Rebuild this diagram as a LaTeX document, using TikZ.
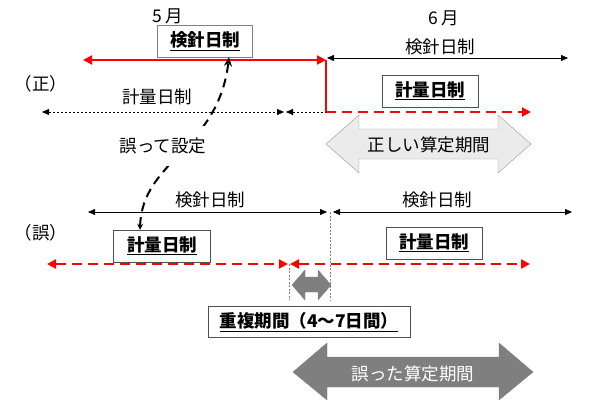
\documentclass[tikz,border=0pt]{standalone}
\usepackage{fontspec}
\setmainfont{Noto Sans CJK JP}
\usepackage{tikz}
\usetikzlibrary{arrows.meta, positioning, calc}
\definecolor{faultred}{RGB}{255, 0, 0}
\definecolor{boxgray}{RGB}{80, 80, 80}
\definecolor{lightfill}{RGB}{235, 235, 235}
\definecolor{darkfill}{RGB}{127, 127, 127}
\tikzstyle{tspan} = [
    thin,
    {Triangle[length=7pt, width=6pt]}-{Triangle[length=7pt, width=6pt]}
]
\tikzstyle{redtspan} = [
    line width=2pt,
    color=faultred,
    {Triangle[length=9pt, width=9pt]}-{Triangle[length=9pt, width=9pt]}
]
\tikzstyle{reddash} = [
    line width=2pt,
    color=faultred,
    dash pattern=on 10pt off 6pt
]
\tikzstyle{dotspan} = [
    thin,
    dash pattern=on 2.5pt off 1.5pt,
    {Triangle[length=7pt, width=6pt]}-{Triangle[length=7pt, width=6pt]}
]
\tikzstyle{guide} = [
    thin,
    gray,
    dash pattern=on 2pt off 1.5pt
]
\tikzstyle{labelbox} = [
    draw=boxgray,
    fill=white,
    minimum height=32pt,
    font=\fontsize{17.5}{20}\selectfont\bfseries
]

\begin{document}
\begin{tikzpicture}[x=1pt, y=-1pt, font=\fontsize{17.5}{20}\selectfont]
        \useasboundingbox (0,0) rectangle (595,412);

        % Time points (correct case)
        \coordinate (kL) at (83,60);
        \coordinate (kM) at (326,60);
        \coordinate (kMb) at (327,58);
        \coordinate (kR) at (568,58);
        \coordinate (mL) at (42,112);
        \coordinate (mM) at (284,112);
        \coordinate (mMb) at (286,112);
        \coordinate (mC) at (326,112);
        \coordinate (mR) at (531,112);

        % Month labels
        \node (may) at (168,16) {5\,月};
        \node (june) at (444,18) {6\,月};

        % Correct case
        \node (correct) at (41,84) {（正）};
        \draw[redtspan] (kL) -- (kM);
        \draw[line width=2pt, faultred] (kM) -- (mC);
        \draw[reddash, -{Triangle[length=9pt, width=9pt]}] (mC) -- (mR);
        \draw[tspan] (kMb) -- (kR);
        \node (kenshinB) at (440,47) {検針日制};
        \draw[dotspan] (mL) -- (mM);
        \draw[dotspan, {Triangle[length=7pt, width=6pt]}-] (mMb) -- (mC);
        \node (keiryoL) at (157,97) {計量日制};
        \node[labelbox, minimum width=95pt, draw=gray] (kenshinA) at (205,41) {\underline{検針日制}};
        \node[labelbox, minimum width=96pt] (keiryoA) at (430,91) {\underline{計量日制}};

        % Correct period
        \draw[draw=gray!80, fill=lightfill] (326,144) -- ++(33,-29) -- ++(0,14) -- (498,129) -- ++(0,-14)
            -- (531,144) -- (498,173) -- ++(0,-14) -- (359,159) -- ++(0,14) -- cycle;
        \node (rightperiod) at (429,145) {正しい算定期間};

        % Time points (wrong case)
        \coordinate (wL) at (88,212);
        \coordinate (wM) at (327,212);
        \coordinate (wMb) at (333,212);
        \coordinate (wR) at (572,212);
        \coordinate (rL) at (47,264);
        \coordinate (rM) at (288,264);
        \coordinate (rMb) at (290,264);
        \coordinate (rR) at (530,264);

        % Wrong case
        \node (wrong) at (41,233) {（誤）};
        \draw[tspan] (wL) -- (wM);
        \draw[tspan] (wMb) -- (wR);
        \node (kenshinC) at (210,200) {検針日制};
        \node (kenshinD) at (437,200) {検針日制};
        \draw[guide] (330,212) -- (330,300);
        \draw[guide] (289,264) -- (289,300);
        \draw[reddash, {Triangle[length=9pt, width=9pt]}-{Triangle[length=9pt, width=9pt]}] (rL) -- (rM);
        \draw[reddash, {Triangle[length=9pt, width=9pt]}-{Triangle[length=9pt, width=9pt]}] (rMb) -- (rR);
        \node[labelbox, minimum width=97pt] (keiryoB) at (162,246) {\underline{計量日制}};
        \node[labelbox, minimum width=96pt] (keiryoC) at (434,243) {\underline{計量日制}};

        % Overlap
        \draw[draw=darkfill, fill=darkfill] (292,285) -- ++(13,-15) -- ++(0,7) -- (318,277) -- ++(0,-7)
            -- (331,285) -- (318,300) -- ++(0,-8) -- (305,292) -- ++(0,8) -- cycle;
        \node[labelbox, minimum width=202pt, minimum height=31pt] (overlap) at (309,322) {\underline{重複期間（4～7日間）}};

        % Wrong period
        \draw[draw=darkfill, fill=darkfill] (293,372) -- ++(34,-29) -- ++(0,14) -- (499,357) -- ++(0,-14)
            -- (533,372) -- (499,400) -- ++(0,-13) -- (327,387) -- ++(0,13) -- cycle;
        \node[text=white] (wrongperiod) at (413,374) {誤った算定期間};

        % Mistake link
        \draw[line width=2pt, dash pattern=on 9pt off 6pt,
            {Stealth[length=6pt, width=6pt]}-{Stealth[length=9pt, width=8pt]}]
            ([xshift=-22pt]keiryoB.north) .. controls (142,160) and (218,150) .. ([xshift=24pt]kenshinA.south);
        \node[fill=white, inner xsep=2pt, inner ysep=12pt] (mistake) at (163,146) {誤って設定};
    \end{tikzpicture}
\end{document}
